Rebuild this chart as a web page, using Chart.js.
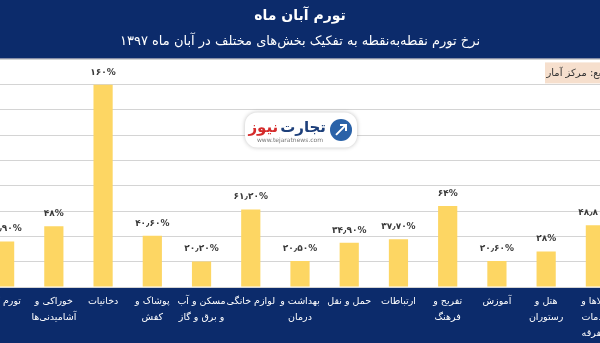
<!DOCTYPE html>
<html>
<head>
<meta charset="utf-8">
<script src="https://cdn.jsdelivr.net/npm/chart.js@4"></script>
<style>
  html, body { margin: 0; padding: 0; background: #0c2b6b; overflow: hidden; }
  #wrap { position: absolute; left: -20px; top: 0; width: 640px; height: 343px; }
</style>
</head>
<body>
<div id="wrap"><canvas id="inflationChart"></canvas></div>
<script>
const sectors = [
  'تورم کل',
  ['خوراکی و', 'آشامیدنی‌ها'],
  'دخانیات',
  ['پوشاک و', 'کفش'],
  ['مسکن و آب', 'و برق و گاز'],
  'لوازم خانگی',
  ['بهداشت و', 'درمان'],
  'حمل و نقل',
  'ارتباطات',
  ['تفریح و', 'فرهنگ'],
  'آموزش',
  ['هتل و', 'رستوران'],
  ['کالاها و', 'خدمات', 'متفرقه']
];
const pointInflation = [35.9, 48, 160, 40.6, 20.2, 61.2, 20.5, 34.9, 37.7, 64, 20.6, 28, 48.8];
const yTicks = [0, 20, 40, 60, 80, 100, 120, 140, 160, 180];

const navy = '#0c2b6b';
const faFont = '"DejaVu Sans", sans-serif';

function toPersian(s) {
  return String(s).replace(/\d/g, d => '۰۱۲۳۴۵۶۷۸۹'[d]).replace('.', '٫');
}
function fmt(v) {
  return toPersian(Number.isInteger(v) ? v : v.toFixed(2)) + '%';
}

// navy page with a white plot band
const background = {
  id: 'background',
  beforeDraw(chart) {
    const { ctx, chartArea } = chart;
    ctx.save();
    ctx.fillStyle = navy;
    ctx.fillRect(0, 0, chart.width, chart.height);
    ctx.fillStyle = '#ffffff';
    ctx.fillRect(0, chartArea.top, chart.width, chartArea.bottom - chartArea.top);
    ctx.fillStyle = '#d9cfd0';
    ctx.fillRect(0, chartArea.top - 1, chart.width, 1);
    ctx.restore();
  }
};

// value labels above the bars
const valueLabels = {
  id: 'valueLabels',
  afterDatasetsDraw(chart) {
    const { ctx } = chart;
    const meta = chart.getDatasetMeta(0);
    ctx.save();
    ctx.font = 'bold 9px ' + faFont;
    ctx.fillStyle = '#3a3a3a';
    ctx.textAlign = 'center';
    ctx.textBaseline = 'bottom';
    meta.data.forEach((bar, i) => {
      ctx.fillText(fmt(pointInflation[i]), bar.x, bar.y - 8);
    });
    ctx.restore();
  }
};

// source note and site badge
const extras = {
  id: 'extras',
  afterDraw(chart) {
    const { ctx, chartArea } = chart;
    const top = chartArea.top;
    ctx.save();
    ctx.fillStyle = '#f6dfcd';
    ctx.fillRect(565, top + 3, 80, 21);
    ctx.fillStyle = '#333';
    ctx.font = '10px ' + faFont;
    ctx.textAlign = 'right';
    ctx.textBaseline = 'middle';
    ctx.fillText('منبع: مرکز آمار', 630, top + 14);

    // badge
    const bx = 265, by = top + 53, bw = 112, bh = 35;
    ctx.shadowColor = 'rgba(0,0,0,0.25)';
    ctx.shadowBlur = 4;
    ctx.fillStyle = '#fff';
    ctx.beginPath();
    ctx.roundRect(bx, by, bw, bh, 12);
    ctx.fill();
    ctx.shadowBlur = 0;
    const cx = bx + bw - 16, cy = by + bh / 2;
    ctx.fillStyle = '#2a62a8';
    ctx.beginPath();
    ctx.arc(cx, cy, 11, 0, Math.PI * 2);
    ctx.fill();
    ctx.strokeStyle = '#fff';
    ctx.lineWidth = 2;
    ctx.beginPath();
    ctx.moveTo(cx - 5, cy + 5);
    ctx.lineTo(cx + 5, cy - 5);
    ctx.moveTo(cx - 1, cy - 5);
    ctx.lineTo(cx + 5, cy - 5);
    ctx.lineTo(cx + 5, cy + 1);
    ctx.stroke();
    ctx.textAlign = 'right';
    ctx.textBaseline = 'alphabetic';
    ctx.font = 'bold 15px ' + faFont;
    ctx.fillStyle = '#1d3f7a';
    ctx.fillText('تجارت', cx - 15, by + 20);
    const w = ctx.measureText('تجارت').width;
    ctx.fillStyle = '#d52b2b';
    ctx.fillText('نیوز', cx - 17 - w, by + 20);
    ctx.font = '6px ' + faFont;
    ctx.fillStyle = '#777';
    ctx.textAlign = 'center';
    ctx.fillText('www.tejaratnews.com', bx + 45, by + 30);
    ctx.restore();
  }
};

new Chart(document.getElementById('inflationChart'), {
  type: 'bar',
  data: {
    labels: sectors,
    datasets: [{
      label: 'نرخ تورم نقطه‌به‌نقطه',
      data: pointInflation,
      backgroundColor: '#fdd663',
      borderWidth: 0,
      categoryPercentage: 1,
      barPercentage: 0.39
    }]
  },
  options: {
    responsive: true,
    maintainAspectRatio: false,
    animation: false,
    layout: { padding: 0 },
    plugins: {
      legend: { display: false },
      tooltip: { enabled: false },
      title: {
        display: true,
        text: 'تورم آبان ماه',
        color: '#ffffff',
        font: { family: faFont, size: 14, weight: 'bold' },
        padding: { top: 8, bottom: 5 }
      },
      subtitle: {
        display: true,
        text: 'نرخ تورم نقطه‌به‌نقطه به تفکیک بخش‌های مختلف در آبان ماه ۱۳۹۷',
        color: '#ffffff',
        font: { family: faFont, size: 13 },
        padding: { top: 4, bottom: 10 }
      }
    },
    scales: {
      x: {
        grid: { display: false },
        border: { display: false },
        afterFit(scale) { scale.height = 56; },
        ticks: {
          color: '#ffffff',
          font: { family: faFont, size: 9.5, lineHeight: '16px' },
          padding: -1,
          maxRotation: 0,
          autoSkip: false
        }
      },
      y: {
        min: 0,
        max: 180,
        afterBuildTicks(scale) {
          scale.ticks = yTicks.map(v => ({ value: v }));
        },
        grid: { color: '#d4d4d4', lineWidth: 1, drawTicks: false },
        border: { display: false },
        ticks: { display: false }
      }
    }
  },
  plugins: [background, valueLabels, extras]
});
</script>
</body>
</html>
